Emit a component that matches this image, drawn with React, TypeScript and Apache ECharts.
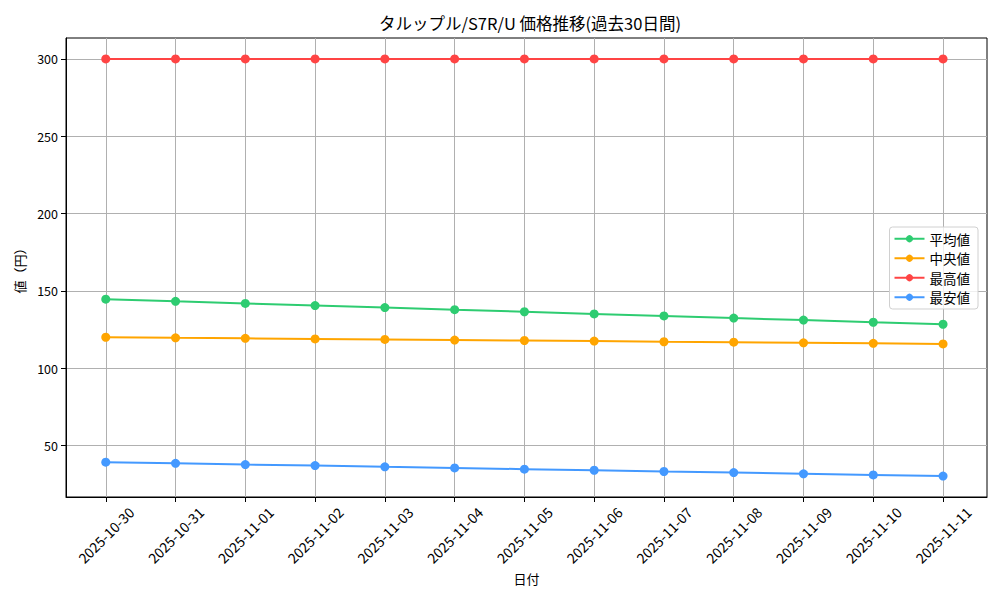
import { useEffect, useRef } from 'react'
import * as echarts from 'echarts'

// 日付ラベル (x 軸)
const DATES = [
  '2025-10-30', '2025-10-31', '2025-11-01', '2025-11-02', '2025-11-03', '2025-11-04', '2025-11-05',
  '2025-11-06', '2025-11-07', '2025-11-08', '2025-11-09', '2025-11-10', '2025-11-11',
]

// 各系列の値 (円)
const AVG = [144.6, 143.2, 141.9, 140.5, 139.2, 137.8, 136.5, 135.1, 133.8, 132.4, 131.1, 129.7, 128.4]
const MEDIAN = [120.0, 119.6, 119.3, 118.9, 118.6, 118.2, 117.9, 117.5, 117.1, 116.8, 116.4, 116.1, 115.7]
const MAX = [300, 300, 300, 300, 300, 300, 300, 300, 300, 300, 300, 300, 300]
const MIN = [39.2, 38.5, 37.7, 37.0, 36.2, 35.5, 34.7, 34.0, 33.2, 32.5, 31.7, 31.0, 30.2]

const Y_TICKS = [50, 100, 150, 200, 250, 300]

const FONT = '"Noto Sans CJK JP", sans-serif'

const SERIES = [
  { name: '平均値', data: AVG, color: '#2ecc71' },
  { name: '中央値', data: MEDIAN, color: '#ffa500' },
  { name: '最高値', data: MAX, color: '#ff4444' },
  { name: '最安値', data: MIN, color: '#4499ff' },
]

const App: React.FC = () => {
  const chartRef = useRef<HTMLDivElement | null>(null)

  useEffect(() => {
    if (!chartRef.current) return
    const chart = echarts.init(chartRef.current, null, { renderer: 'svg' })

    const xIdx = DATES.map((_, i) => i)

    const option: echarts.EChartsOption = {
      animation: false,
      backgroundColor: '#ffffff',
      textStyle: { fontFamily: FONT },
      title: {
        text: 'タルップル/S7R/U 価格推移(過去30日間)',
        left: 525,
        top: 10,
        textAlign: 'center',
        textStyle: { fontFamily: FONT, fontSize: 16.5, fontWeight: 'normal', color: '#000' },
      },
      grid: {
        left: 66, right: 13, top: 38, bottom: 103,
        show: true, borderColor: '#000', borderWidth: 1, backgroundColor: 'transparent',
      },
      legend: {
        right: 22,
        top: 227,
        orient: 'vertical',
        itemWidth: 30,
        itemHeight: 9,
        itemGap: 6,
        padding: [5, 8, 5, 4],
        borderColor: '#d0d0d0',
        borderWidth: 1,
        borderRadius: 3,
        backgroundColor: 'rgba(255,255,255,0.8)',
        textStyle: { fontFamily: FONT, fontSize: 13.5, color: '#000' },
        data: SERIES.map(s => s.name),
      },
      xAxis: {
        type: 'value',
        min: -0.57,
        max: 12.63,
        name: '日付',
        nameLocation: 'middle',
        nameGap: 74,
        nameTextStyle: { fontFamily: FONT, fontSize: 13, color: '#000' },
        axisLine: { show: true, onZero: false, lineStyle: { color: '#000' } },
        axisTick: { show: true, length: 5, lineStyle: { color: '#000' }, customValues: xIdx },
        axisLabel: {
          customValues: xIdx,
          rotate: 45,
          margin: 38,
          align: 'center',
          verticalAlign: 'middle',
          fontFamily: FONT,
          fontSize: 14,
          color: '#000',
          formatter: (v: number) => DATES[Math.round(v)] ?? '',
        },
        splitLine: { show: true, lineStyle: { color: '#b0b0b0', width: 1 } },
      },
      yAxis: {
        type: 'value',
        min: 16.7,
        max: 313.5,
        name: '値（円）',
        nameLocation: 'middle',
        nameGap: 40,
        nameTextStyle: { fontFamily: FONT, fontSize: 13, color: '#000' },
        axisLine: { show: true, onZero: false, lineStyle: { color: '#000' } },
        axisTick: { show: true, length: 5, lineStyle: { color: '#000' }, customValues: Y_TICKS },
        axisLabel: { customValues: Y_TICKS, margin: 8, fontFamily: FONT, fontSize: 12.5, color: '#000' },
        splitLine: { show: true, lineStyle: { color: '#b0b0b0', width: 1 } },
      },
      series: SERIES.map(s => ({
        name: s.name,
        type: 'line',
        data: s.data.map((v, i) => [i, v]),
        symbol: 'circle',
        symbolSize: 9,
        lineStyle: { color: s.color, width: 2 },
        itemStyle: { color: s.color },
        emphasis: { disabled: true },
      })),
    }

    chart.setOption(option)

    return () => {
      chart.dispose()
    }
  }, [])

  return (
    <div
      ref={chartRef}
      style={{ position: 'fixed', left: 0, top: 0, width: 1000, height: 600 }}
    />
  )
}

export default App
